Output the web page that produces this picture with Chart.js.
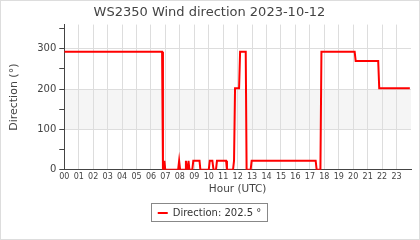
<!DOCTYPE html>
<html>
<head>
<meta charset="utf-8">
<script src="https://cdn.jsdelivr.net/npm/chart.js@4"></script>
<style>
  html, body { margin: 0; padding: 0; background: #fff; }
  #wrap { width: 418px; height: 238px; border: 1px solid #ddd; }
</style>
</head>
<body>
<div id="wrap"><canvas id="wind-chart" width="418" height="238"></canvas></div>
<script>
// Giờ (UTC, dạng thập phân) và hướng gió
const hours = [
  0, 6.77, 6.83, 6.88, 6.93, 6.99, 7.88, 7.95, 8.02, 8.36, 8.42, 8.48,
  8.55, 8.6, 8.66, 8.86, 8.93, 9.36, 9.42, 10.0, 10.07, 10.25, 10.33,
  10.5, 10.57, 11.2, 11.26, 11.68, 11.75, 11.82, 12.1, 12.17, 12.56,
  12.62, 12.9, 12.97, 17.4, 17.47, 17.73, 17.8, 20.1, 20.17, 21.73, 21.8, 23.92
];
const directions = [
  292.5, 292.5, 0, 0, 22.5, 0, 0, 22.5, 0, 0, 22.5, 0,
  0, 22.5, 0, 0, 22.5, 22.5, 0, 0, 22.5, 22.5, 0,
  0, 22.5, 22.5, 0, 0, 22.5, 202.5, 202.5, 292.5, 292.5,
  0, 0, 22.5, 22.5, 0, 0, 292.5, 292.5, 270, 270, 202.5, 202.5
];
const hourLabels = ['00','01','02','03','04','05','06','07','08','09','10','11',
  '12','13','14','15','16','17','18','19','20','21','22','23'];
const bandLow = 100;
const bandHigh = 200;
const lastValue = directions[directions.length - 1];

// Tô nền xám cho dải 100-200
const bandPlugin = {
  id: 'band',
  beforeDraw(chart) {
    const { ctx, chartArea, scales } = chart;
    const yTop = scales.y.getPixelForValue(bandHigh);
    const yBot = scales.y.getPixelForValue(bandLow);
    ctx.save();
    ctx.fillStyle = '#f5f5f5';
    ctx.fillRect(chartArea.left, yTop, chartArea.right - chartArea.left, yBot - yTop);
    ctx.restore();
  }
};

// Khung quanh chú thích
const legendBoxPlugin = {
  id: 'legendBox',
  afterDraw(chart) {
    const box = chart.legend.legendHitBoxes[0];
    if (!box) return;
    const ctx = chart.ctx;
    ctx.save();
    ctx.strokeStyle = '#888';
    ctx.lineWidth = 1;
    ctx.strokeRect(Math.round(box.left) - 6.5, Math.round(box.top) - 4.5, Math.round(box.width) + 12, Math.round(box.height) + 8);
    ctx.restore();
  }
};

new Chart(document.getElementById('wind-chart'), {
  type: 'line',
  data: {
    datasets: [{
      label: 'Direction: ' + lastValue + ' °',
      data: hours.map((h, i) => ({ x: h, y: directions[i] })),
      borderColor: '#ff0000',
      backgroundColor: '#ff0000',
      borderWidth: 2,
      pointRadius: 0,
      fill: false,
      tension: 0
    }]
  },
  options: {
    responsive: false,
    animation: false,
    layout: { padding: { left: 7, right: 8, top: 0, bottom: 11 } },
    plugins: {
      title: {
        display: true,
        text: 'WS2350 Wind direction 2023-10-12',
        color: '#444',
        font: { family: 'DejaVu Sans', size: 13, weight: 'normal' },
        padding: { top: 4, bottom: 4 }
      },
      legend: {
        position: 'bottom',
        labels: {
          color: '#333',
          font: { family: 'DejaVu Sans', size: 10 },
          usePointStyle: true,
          pointStyle: 'line',
          pointStyleWidth: 10,
          padding: 12
        }
      },
      tooltip: { enabled: false }
    },
    scales: {
      x: {
        type: 'linear',
        min: 0,
        max: 24,
        border: { color: '#444' },
        grid: {
          drawTicks: false,
          color: c => (c.tick && c.tick.value > 0 && c.tick.value < 24) ? '#ddd' : 'rgba(0,0,0,0)'
        },
        ticks: {
          stepSize: 1,
          autoSkip: false,
          maxRotation: 0,
          padding: 2,
          color: '#444',
          font: { family: 'DejaVu Sans', size: 8 },
          callback: v => hourLabels[v] !== undefined ? hourLabels[v] : ''
        },
        title: {
          display: true,
          text: 'Hour (UTC)',
          color: '#444',
          font: { family: 'DejaVu Sans', size: 10.5 },
          padding: { top: 0, bottom: 0 }
        }
      },
      y: {
        min: 0,
        max: 360,
        border: { color: '#444' },
        grid: {
          tickLength: 5,
          tickColor: '#444',
          color: c => (c.tick && c.tick.value > 0 && c.tick.value % 100 === 0) ? '#ddd' : 'rgba(0,0,0,0)'
        },
        ticks: {
          stepSize: 50,
          includeBounds: false,
          padding: 3,
          color: '#444',
          font: { family: 'DejaVu Sans', size: 10 },
          callback: v => v % 100 === 0 ? String(v) : ''
        },
        title: {
          display: true,
          text: 'Direction (°)',
          color: '#444',
          font: { family: 'DejaVu Sans', size: 11 },
          padding: { top: 0, bottom: 13 }
        }
      }
    }
  },
  plugins: [bandPlugin, legendBoxPlugin]
});
</script>
</body>
</html>
